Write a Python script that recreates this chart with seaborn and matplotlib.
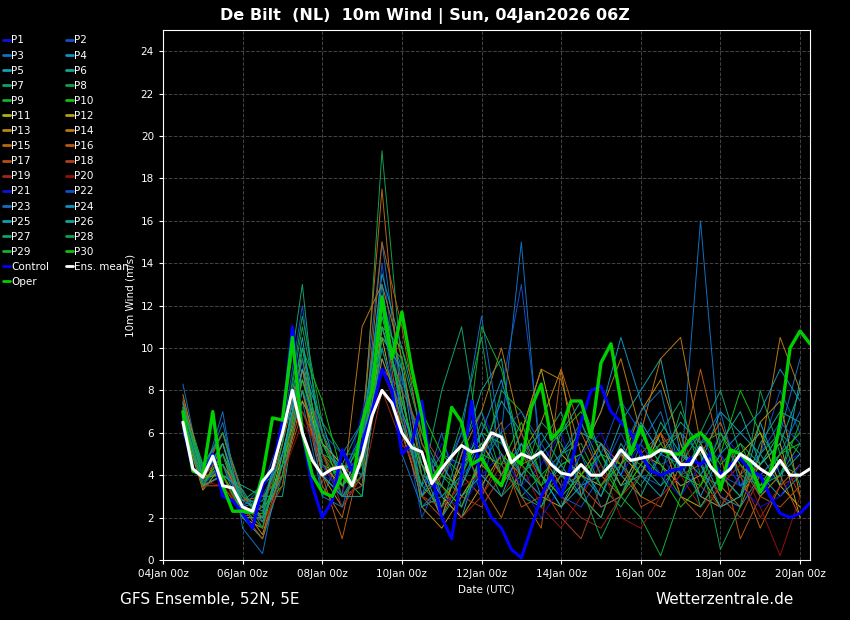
import numpy as np
import pandas as pd
import matplotlib
matplotlib.use("Agg")
import matplotlib.pyplot as plt
import matplotlib.dates as mdates
import seaborn as sns

# 6-hourly series from 04Jan 12z
ens_mean = [6.5, 4.3, 3.9, 4.9, 3.5, 3.4, 2.5, 2.3, 3.7, 4.3, 6.0, 8.0, 6.0, 4.7, 4.0, 4.3,
            4.4, 3.5, 4.9, 6.8, 8.0, 7.4, 6.0, 5.3, 5.1, 3.6, 4.3, 4.9, 5.4, 5.1, 5.2, 6.0,
            5.8, 4.6, 5.0, 4.8, 5.1, 4.5, 4.1, 4.0, 4.5, 4.0, 4.0, 4.5, 5.2, 4.7, 4.8, 4.9,
            5.2, 5.1, 4.5, 4.5, 5.3, 4.4, 3.9, 4.3, 5.0, 4.7, 4.3, 4.0, 4.7, 4.0, 4.0, 4.3]
control = [6.5, 4.2, 4.0, 5.0, 3.0, 2.8, 2.2, 1.5, 3.5, 4.3, 6.5, 11.0, 6.0, 3.5, 2.0, 2.8,
           5.2, 4.2, 5.5, 7.0, 9.0, 8.0, 5.0, 5.5, 7.5, 4.0, 2.0, 1.0, 4.0, 7.5, 3.0, 2.0,
           1.5, 0.5, 0.1, 1.5, 3.0, 4.0, 3.0, 4.5, 6.5, 8.0, 8.2, 7.0, 6.5, 6.0, 5.0, 4.2,
           4.0, 4.2, 4.3, 4.8, 4.5, 5.0, 4.0, 4.5, 4.8, 4.2, 4.0, 3.0, 2.2, 2.0, 2.2, 2.7]
oper = [7.0, 4.2, 4.0, 7.0, 3.5, 2.3, 2.3, 2.3, 4.0, 6.7, 6.6, 10.5, 6.0, 4.0, 3.2, 3.0,
        4.0, 3.5, 6.5, 8.0, 12.4, 9.5, 11.7, 9.0, 6.8, 3.8, 4.5, 7.2, 6.5, 4.5, 4.8, 4.0,
        3.5, 5.0, 4.5, 7.2, 8.3, 5.7, 6.2, 7.5, 7.5, 5.8, 9.3, 10.2, 7.5, 5.0, 6.3, 5.0,
        5.2, 5.0, 5.0, 5.7, 6.0, 5.5, 3.3, 5.2, 5.0, 4.5, 3.2, 4.0, 6.5, 10.0, 10.8, 10.2]

# 12-hourly members from 04Jan 12z
members = [
    [7.5, 4.0, 5.5, 3.0, 2.0, 4.5, 9.0, 4.0, 3.5, 5.0, 9.5, 6.0, 3.0, 5.5, 4.0, 7.0, 5.0, 3.5, 4.5, 6.0, 3.0, 5.0, 4.5, 6.5, 5.0, 3.5, 4.0, 6.0, 5.0, 3.0, 4.5, 5.0],
    [6.0, 3.5, 4.5, 2.5, 3.5, 6.0, 12.0, 5.0, 2.5, 4.0, 14.0, 7.0, 2.0, 4.0, 6.0, 3.0, 8.0, 13.0, 5.0, 3.0, 2.5, 4.0, 6.0, 4.0, 3.5, 5.5, 3.0, 2.5, 4.0, 5.0, 8.0, 6.0],
    [8.3, 3.8, 7.0, 1.5, 0.3, 5.0, 7.5, 3.0, 5.0, 6.5, 15.0, 8.0, 3.0, 6.0, 2.5, 4.5, 6.0, 15.0, 4.0, 3.0, 5.0, 2.5, 3.0, 5.5, 7.0, 4.0, 16.0, 5.0, 3.5, 4.5, 6.0, 9.5],
    [7.0, 4.5, 6.0, 3.0, 2.5, 5.0, 8.0, 4.5, 3.0, 3.5, 12.0, 9.0, 5.0, 2.5, 3.5, 6.0, 4.0, 5.5, 3.0, 4.5, 5.0, 7.0, 10.5, 7.5, 5.5, 6.0, 5.0, 3.0, 2.5, 4.0, 3.0, 4.0],
    [6.5, 3.5, 5.0, 2.0, 1.0, 4.0, 10.0, 6.0, 4.0, 5.5, 13.5, 10.0, 6.0, 3.0, 2.0, 5.0, 7.5, 6.0, 4.0, 2.5, 3.5, 4.0, 6.5, 8.0, 9.5, 5.0, 4.5, 7.0, 6.0, 5.0, 3.5, 8.5],
    [7.2, 4.0, 4.0, 3.5, 3.0, 3.0, 9.0, 5.5, 4.5, 4.0, 11.0, 7.5, 4.0, 2.0, 5.0, 8.0, 9.5, 3.5, 2.5, 5.0, 6.0, 5.5, 4.0, 3.0, 5.0, 6.5, 5.5, 4.0, 3.0, 5.5, 7.0, 6.5],
    [6.8, 3.8, 5.5, 2.5, 2.0, 6.5, 13.0, 4.0, 3.0, 4.5, 10.0, 6.5, 3.5, 8.0, 11.0, 5.0, 3.0, 4.0, 5.5, 7.0, 4.0, 3.0, 5.0, 4.5, 3.5, 4.5, 6.0, 8.0, 5.0, 3.0, 4.0, 5.5],
    [7.0, 4.2, 6.0, 3.2, 1.5, 5.5, 11.5, 6.5, 5.0, 5.0, 19.3, 9.0, 4.5, 3.5, 6.5, 10.5, 4.5, 3.0, 4.0, 5.0, 5.5, 3.5, 2.5, 4.0, 6.0, 7.5, 4.0, 3.5, 5.5, 4.5, 6.0, 5.0],
    [7.5, 4.5, 4.5, 2.8, 3.5, 4.5, 8.5, 5.0, 3.5, 6.0, 12.5, 8.5, 5.5, 4.0, 3.0, 4.5, 8.0, 7.0, 5.0, 4.0, 6.5, 4.5, 3.0, 2.0, 0.2, 3.0, 5.5, 6.0, 4.0, 3.5, 5.0, 6.0],
    [6.2, 3.6, 5.0, 2.2, 2.5, 3.5, 10.0, 7.5, 4.0, 3.0, 11.0, 10.0, 7.0, 5.0, 4.0, 6.0, 5.5, 4.5, 3.5, 6.0, 7.0, 5.0, 4.5, 5.5, 4.0, 2.5, 3.5, 5.0, 8.0, 6.0, 4.5, 4.0],
    [7.0, 3.5, 4.0, 2.0, 1.5, 5.0, 9.0, 4.5, 3.5, 5.0, 10.5, 6.0, 3.0, 2.5, 4.5, 5.5, 4.0, 6.0, 9.0, 5.0, 4.0, 3.5, 5.0, 4.0, 6.0, 3.0, 2.5, 4.0, 5.0, 6.0, 3.5, 2.5],
    [6.5, 3.3, 4.5, 3.0, 2.0, 4.0, 7.5, 5.5, 4.5, 3.5, 9.5, 7.0, 4.5, 3.0, 2.0, 3.5, 5.0, 4.0, 3.0, 2.5, 4.0, 5.5, 3.5, 5.0, 4.5, 3.5, 4.0, 2.5, 3.0, 4.5, 5.5, 2.0],
    [7.8, 4.0, 4.0, 2.5, 1.2, 4.5, 8.0, 4.0, 2.5, 4.0, 11.0, 8.0, 2.5, 1.5, 3.0, 4.5, 3.5, 5.0, 6.5, 9.0, 3.0, 2.0, 4.5, 7.0, 8.5, 5.5, 3.0, 2.5, 4.0, 6.5, 7.5, 3.0],
    [7.2, 3.4, 5.5, 2.0, 2.5, 5.5, 9.5, 5.0, 3.0, 11.0, 13.0, 9.5, 4.0, 2.0, 5.0, 7.0, 10.0, 6.0, 9.0, 8.5, 5.0, 7.0, 9.5, 6.0, 9.5, 10.5, 5.5, 3.5, 2.5, 5.0, 10.5, 8.0],
    [6.8, 3.8, 4.5, 2.8, 3.0, 4.0, 8.0, 3.5, 2.0, 6.0, 17.5, 7.0, 3.0, 4.0, 5.5, 3.5, 2.0, 4.5, 5.0, 3.5, 4.0, 5.5, 4.5, 3.0, 2.5, 4.5, 5.0, 6.5, 4.0, 1.5, 3.5, 4.5],
    [7.4, 3.5, 3.5, 2.2, 1.0, 4.5, 9.0, 4.0, 1.0, 5.0, 15.0, 11.0, 5.5, 3.5, 2.5, 5.0, 6.5, 3.0, 1.5, 9.0, 6.0, 4.0, 3.0, 5.0, 6.0, 4.5, 9.0, 5.0, 1.0, 3.0, 4.0, 2.0],
    [7.0, 4.0, 6.0, 3.0, 2.0, 4.0, 7.0, 5.0, 4.0, 5.0, 12.0, 6.0, 3.0, 2.0, 4.0, 3.0, 5.0, 2.5, 3.0, 4.0, 3.5, 2.5, 3.0, 4.5, 6.0, 3.0, 2.0, 3.5, 4.5, 3.0, 2.5, 3.5],
    [7.6, 3.9, 5.0, 2.5, 1.8, 3.5, 8.5, 6.0, 3.5, 4.5, 9.0, 8.0, 6.0, 4.5, 3.0, 2.5, 4.0, 6.0, 3.5, 2.0, 1.0, 3.5, 5.0, 2.5, 3.0, 4.0, 4.5, 3.0, 2.0, 4.0, 5.0, 3.0],
    [6.6, 3.4, 4.0, 2.0, 2.5, 5.0, 7.0, 4.5, 3.0, 3.5, 8.0, 5.5, 4.0, 3.5, 2.0, 3.0, 4.5, 5.0, 4.0, 3.0, 2.0, 1.5, 3.0, 4.0, 5.5, 6.0, 3.5, 2.5, 4.0, 2.0, 3.5, 4.0],
    [7.2, 3.7, 3.5, 2.4, 1.5, 4.0, 6.5, 5.0, 2.5, 4.0, 9.0, 6.5, 3.0, 2.5, 3.5, 4.0, 3.0, 4.5, 2.5, 1.5, 3.0, 4.5, 2.0, 1.5, 3.0, 4.0, 2.5, 3.5, 4.5, 2.5, 0.2, 3.0],
    [6.9, 4.1, 5.0, 3.0, 2.5, 6.0, 10.0, 4.5, 3.0, 7.0, 10.0, 7.0, 4.0, 3.0, 2.5, 4.0, 5.0, 3.5, 2.0, 3.5, 5.0, 6.0, 4.0, 5.5, 4.0, 3.0, 4.5, 5.0, 3.5, 2.5, 3.0, 4.5],
    [7.3, 3.6, 4.5, 2.6, 3.0, 5.0, 8.0, 6.0, 5.0, 4.0, 11.5, 8.5, 5.0, 3.0, 4.0, 5.0, 6.0, 7.0, 5.5, 4.0, 3.5, 5.0, 7.5, 6.0, 4.5, 5.0, 6.0, 4.0, 3.5, 5.0, 6.5, 5.5],
    [6.4, 3.9, 6.5, 2.0, 2.0, 4.5, 9.5, 3.0, 2.5, 5.5, 12.0, 5.0, 2.5, 3.5, 6.0, 11.5, 5.5, 4.0, 3.0, 5.0, 6.5, 4.0, 5.0, 7.0, 8.0, 4.0, 5.5, 7.0, 3.5, 4.0, 5.0, 7.0],
    [7.1, 4.3, 5.0, 2.8, 2.3, 6.0, 8.5, 5.5, 4.0, 6.0, 13.0, 6.5, 3.5, 5.0, 4.5, 6.0, 8.5, 5.0, 6.0, 4.5, 3.0, 5.5, 4.0, 6.5, 5.0, 4.5, 3.0, 5.0, 6.0, 7.0, 9.0, 7.5],
    [6.7, 3.5, 4.0, 3.3, 1.8, 4.5, 10.5, 4.0, 3.0, 3.0, 10.5, 9.0, 3.0, 4.5, 3.0, 4.0, 3.0, 5.5, 4.0, 2.5, 4.5, 3.0, 5.5, 4.0, 3.0, 5.0, 4.5, 2.5, 3.0, 6.5, 4.0, 5.0],
    [7.4, 4.0, 5.5, 2.5, 2.8, 5.0, 9.0, 6.5, 3.5, 5.0, 12.0, 7.0, 4.5, 2.0, 3.5, 5.5, 6.0, 4.0, 5.0, 6.0, 7.5, 5.0, 3.5, 4.0, 6.5, 5.0, 4.0, 5.5, 7.0, 4.5, 5.5, 8.0],
    [6.9, 3.7, 4.5, 2.0, 2.0, 4.0, 8.0, 5.0, 4.5, 6.5, 11.0, 8.0, 2.5, 3.0, 4.0, 6.5, 5.0, 3.0, 2.5, 4.0, 3.0, 2.0, 4.5, 3.5, 5.0, 6.0, 2.5, 4.0, 3.0, 5.0, 6.0, 3.5],
    [7.0, 4.4, 6.0, 2.5, 1.5, 5.5, 11.0, 6.0, 3.0, 4.0, 10.0, 6.5, 3.5, 2.5, 5.5, 7.0, 4.0, 3.5, 6.5, 5.5, 3.5, 1.0, 3.0, 5.0, 4.0, 7.0, 5.0, 0.5, 2.5, 8.0, 5.0, 6.0],
    [6.6, 3.5, 5.0, 3.0, 2.5, 6.0, 10.0, 4.5, 4.0, 5.5, 10.5, 9.5, 6.0, 4.0, 3.5, 11.0, 9.0, 5.0, 3.5, 4.5, 5.0, 3.5, 4.5, 6.0, 4.5, 3.0, 6.0, 4.5, 5.5, 3.5, 4.0, 6.5],
    [7.2, 3.9, 4.0, 2.2, 2.2, 4.5, 8.5, 5.5, 3.5, 4.5, 11.5, 7.5, 4.0, 3.5, 2.5, 5.0, 4.5, 6.5, 4.0, 3.0, 4.0, 5.0, 3.0, 4.5, 5.5, 4.0, 3.5, 6.0, 4.5, 3.5, 5.0, 5.5],
]

palette = ["#1010e0", "#1050c8", "#1070c0", "#1090c0", "#10a0b0", "#10a890", "#10a070",
           "#10a050", "#10b030", "#10c010", "#b0b010", "#b8a010", "#b88810", "#b87810",
           "#b86810", "#b85a10", "#b85010", "#b04020", "#a02818", "#901010"]
colors = palette + palette[:10]

start = pd.Timestamp("2026-01-04 12:00")
t6 = pd.date_range(start, periods=len(ens_mean), freq="6h")

sns.set_style("dark")
plt.rcParams["font.family"] = ["DejaVu Sans"]
fig = plt.figure(figsize=(8.5, 6.2), dpi=100, facecolor="black")
ax = fig.add_axes([163 / 850, 60 / 620, 647 / 850, 530 / 620])
ax.set_facecolor("black")

for i, vals in enumerate(members):
    tt = pd.date_range(start, periods=len(vals), freq="12h")
    sns.lineplot(x=tt, y=vals, ax=ax, color=colors[i], lw=0.7, label=f"P{i+1}")
sns.lineplot(x=t6, y=control, ax=ax, color="#0000ff", lw=2.2, label="Control")
sns.lineplot(x=t6, y=ens_mean, ax=ax, color="white", lw=2.2, label="Ens. mean", zorder=5)
sns.lineplot(x=t6, y=oper, ax=ax, color="#00d000", lw=2.4, label="Oper", zorder=4)

h, l = ax.get_legend_handles_labels()
ax.get_legend().remove()
d = dict(zip(l, h))
left = [f"P{i}" for i in range(1, 31, 2)] + ["Control", "Oper"]
right = [f"P{i}" for i in range(2, 31, 2)] + ["Ens. mean"]
order = left + right
leg = fig.legend([d[k] for k in order], order, loc="upper left", bbox_to_anchor=(-0.008, 0.958),
                 ncol=2, frameon=False, fontsize=7.5, handlelength=0.7, handletextpad=0.1,
                 columnspacing=1.6, labelspacing=0.49, labelcolor="white")
for lh in leg.get_lines():
    lh.set_linewidth(2)

ax.set_xlim(pd.Timestamp("2026-01-04 00:00"), pd.Timestamp("2026-01-20 06:00"))
ax.set_ylim(0, 25)
ax.set_yticks(range(0, 25, 2))
ax.xaxis.set_major_locator(mdates.DayLocator(bymonthday=[4, 6, 8, 10, 12, 14, 16, 18, 20]))
ax.xaxis.set_major_formatter(mdates.DateFormatter("%dJan %Hz"))
ax.grid(True, color="#444444", ls="--", lw=0.7)
for s in ax.spines.values():
    s.set_color("white")
    s.set_visible(True)
ax.tick_params(colors="white", labelsize=7.5, length=3, direction="out", bottom=True, left=True)
ax.set_xlabel("Date (UTC)", color="white", fontsize=7.5)
ax.set_ylabel("10m Wind (m/s)", color="white", fontsize=7.5)

fig.text(0.5, 0.968, "De Bilt  (NL)  10m Wind | Sun, 04Jan2026 06Z", color="white",
         fontsize=11.5, fontweight="bold", ha="center")
fig.text(120 / 850, 1 - 599 / 620, "GFS Ensemble, 52N, 5E", color="white", fontsize=11, va="center")
fig.text(794 / 850, 1 - 599 / 620, "Wetterzentrale.de", color="white", fontsize=11, va="center", ha="right")

fig.savefig("out.png", dpi=100, facecolor="black")
